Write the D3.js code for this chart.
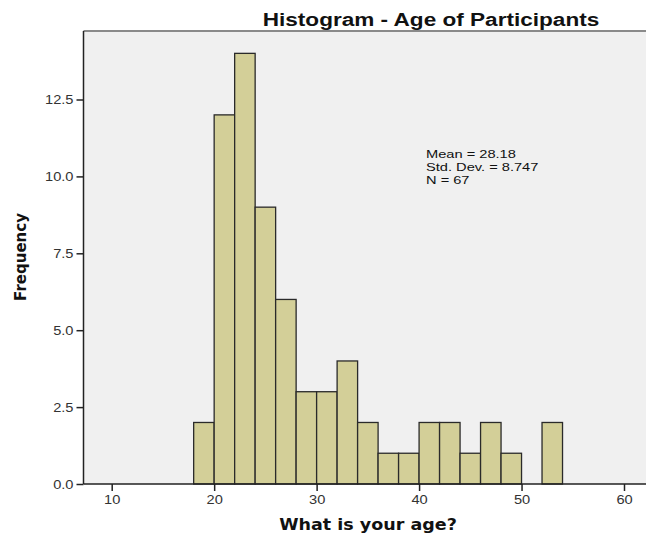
<!DOCTYPE html>
<html><head><meta charset="utf-8">
<script src="https://cdn.jsdelivr.net/npm/d3@7"></script>
<style>
body{margin:0;background:#fff;}
svg{display:block;font-family:"Liberation Sans",Arial,sans-serif;}
</style></head>
<body>
<script>
const binStarts = [18,20,22,24,26,28,30,32,34,36,38,40,42,44,46,48,50,52];
const binWidth = 2;
const counts = [2,12,14,9,6,3,3,4,2,1,1,2,2,1,2,1,0,2];
const xTicks = [10,20,30,40,50,60];
const yTicks = [0,2.5,5,7.5,10,12.5];
const statLines = ["Mean = 28.18","Std. Dev. = 8.747","N = 67"];

(function(){
const W=646,H=537;
const svg=d3.select("body").append("svg").attr("width",W).attr("height",H);
const x=d3.scaleLinear().domain([10,60]).range([111.7,624]);
const y=d3.scaleLinear().domain([0,12.5]).range([484,99.5]);
const pL=83.5, pT=31, pR=W, pB=484;
function stretch(sel,k){sel.each(function(){const w=this.getComputedTextLength();d3.select(this).attr("textLength",w*k).attr("lengthAdjust","spacingAndGlyphs");});}

svg.append("rect").attr("x",pL).attr("y",pT).attr("width",pR-pL).attr("height",pB-pT).attr("fill","#f0f0f0");
svg.append("line").attr("x1",pL).attr("x2",pR).attr("y1",pT).attr("y2",pT).attr("stroke","#8a8a8a").attr("stroke-width",2);

const bins = binStarts.map((s,i)=>({s, c:counts[i]})).filter(d=>d.c>0);
svg.append("g").selectAll("rect").data(bins).join("rect")
 .attr("x",d=>x(d.s)).attr("width",d=>x(d.s+binWidth)-x(d.s))
 .attr("y",d=>y(d.c)).attr("height",d=>pB-y(d.c))
 .attr("fill","#d3cf98").attr("stroke","#2a2a2a").attr("stroke-width",1.3);

const xa=svg.append("g").attr("transform",`translate(0,${pB})`)
 .call(d3.axisBottom(x).tickValues(xTicks).tickSize(7).tickPadding(4).tickFormat(d3.format("d")));
xa.select(".domain").attr("d",`M${pL},0H${pR}`).attr("stroke","#222").attr("stroke-width",1.5);
const ya=svg.append("g").attr("transform",`translate(${pL},0)`)
 .call(d3.axisLeft(y).tickValues(yTicks).tickSize(7).tickPadding(3).tickFormat(d3.format(".1f")));
ya.select(".domain").attr("d",`M0,${pT}V${pB}`).attr("stroke","#222").attr("stroke-width",1.5);
svg.selectAll(".tick line").attr("stroke","#222").attr("stroke-width",1.5);
svg.selectAll(".tick text").attr("font-size",12.5).attr("fill","#333").attr("font-family","'Liberation Sans',Arial,sans-serif");
stretch(svg.selectAll(".tick text"),1.17);

const t=svg.append("text").attr("x",431).attr("y",26).attr("text-anchor","middle")
 .attr("font-size",17.5).attr("font-weight","bold").attr("fill","#111").text("Histogram - Age of Participants");
stretch(t,1.29);
const xt=svg.append("text").attr("x",368).attr("y",530).attr("text-anchor","middle")
 .attr("font-size",15.5).attr("font-weight","bold").attr("fill","#111").attr("font-family","'DejaVu Sans',Verdana,sans-serif").text("What is your age?");
stretch(xt,1.13);
svg.append("text").attr("transform","translate(26,257) rotate(-90)").attr("text-anchor","middle")
 .attr("font-size",15).attr("font-weight","bold").attr("fill","#111").attr("font-family","'DejaVu Sans',Verdana,sans-serif").text("Frequency");
const st=svg.append("g").selectAll("text").data(statLines).join("text")
 .attr("x",426).attr("y",(d,i)=>158+i*12.8).attr("font-size",11).attr("fill","#111").text(d=>d);
stretch(st,1.33);
})();
</script>
</body></html>
